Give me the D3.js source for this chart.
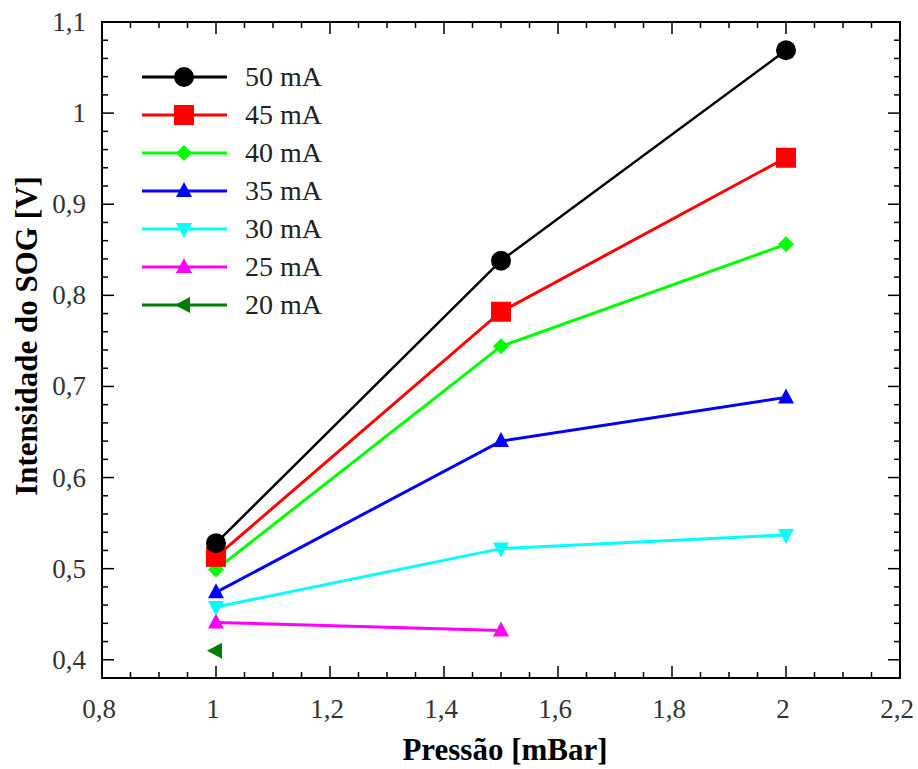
<!DOCTYPE html>
<html><head><meta charset="utf-8">
<script src="https://cdn.jsdelivr.net/npm/d3@7"></script>
<style>body{margin:0;background:#fff}svg{display:block}</style>
</head><body><svg id="c" width="918" height="769"></svg>
<script>
const seriesNames = ["50 mA","45 mA","40 mA","35 mA","30 mA","25 mA","20 mA"];
const seriesColors = ["#000000","#ff0000","#00ff00","#0000ff","#00ffff","#ff00ff","#007d00"];
const seriesMarkers = ["circle","square","diamond","triUp","triDown","triUp","triLeft"];
const pressure50 = [1,1.5,2], values50 = [0.528,0.838,1.069];
const pressure45 = [1,1.5,2], values45 = [0.513,0.782,0.951];
const pressure40 = [1,1.5,2], values40 = [0.499,0.744,0.856];
const pressure35 = [1,1.5,2], values35 = [0.474,0.640,0.688];
const pressure30 = [1,1.5,2], values30 = [0.458,0.522,0.537];
const pressure25 = [1,1.5], values25 = [0.441,0.432];
const pressure20 = [1], values20 = [0.410];
const xTicks = [0.8,1,1.2,1.4,1.6,1.8,2,2.2];
const yTicks = [0.4,0.5,0.6,0.7,0.8,0.9,1,1.1];
const xTitle = "Pressão [mBar]", yTitle = "Intensidade do SOG [V]";

const FONT = "'Liberation Serif','Times New Roman',Times,'DejaVu Serif',serif";
const series = [
  [pressure50,values50],[pressure45,values45],[pressure40,values40],[pressure35,values35],
  [pressure30,values30],[pressure25,values25],[pressure20,values20]
].map((d,i)=>({name:seriesNames[i],color:seriesColors[i],marker:seriesMarkers[i],
  pts:d[0].map((x,j)=>({x,y:d[1][j]}))}));

const L=102,R=900,T=22,B=678;
const x=d3.scaleLinear().domain([0.8,2.2]).range([L,R]);
const y=d3.scaleLinear().domain([0.38,1.1]).range([B,T]);
const svg=d3.select("#c").attr("font-family",FONT);
const fmt=v=>(Math.round(v*10)/10).toString().replace(".",",");

svg.append("rect").attr("x",L).attr("y",T).attr("width",R-L).attr("height",B-T)
  .attr("fill","none").attr("stroke","#000").attr("stroke-width",2);

const xMinor=d3.range(0.8,2.2001,0.05), yMinor=d3.range(0.38,1.1001,0.02);
const isMajor=(v,step)=>Math.abs(v/step-Math.round(v/step))<1e-6;
const tg=svg.append("g").attr("stroke","#000").attr("stroke-width",1.5);
xMinor.forEach(v=>{const len=isMajor(v,0.2)?12:6;const px=x(v);
  tg.append("line").attr("x1",px).attr("x2",px).attr("y1",B).attr("y2",B-len);
  tg.append("line").attr("x1",px).attr("x2",px).attr("y1",T).attr("y2",T+len);});
yMinor.forEach(v=>{const len=isMajor(v,0.1)?12:6;const py=y(v);
  tg.append("line").attr("y1",py).attr("y2",py).attr("x1",L).attr("x2",L+len);
  tg.append("line").attr("y1",py).attr("y2",py).attr("x1",R).attr("x2",R-len);});

svg.append("g").selectAll("text").data(xTicks).join("text")
  .attr("x",d=>x(d)-3).attr("y",718).attr("text-anchor","middle")
  .attr("font-size",27).attr("fill","#333").text(fmt);
svg.append("g").selectAll("text").data(yTicks).join("text")
  .attr("x",L-16).attr("y",d=>y(d)+9).attr("text-anchor","end")
  .attr("font-size",27).attr("fill","#333").text(fmt);

svg.append("text").attr("x",(L+R)/2+4).attr("y",760).attr("text-anchor","middle")
  .attr("font-size",31).attr("font-weight","bold").text(xTitle);
svg.append("text").attr("transform",`translate(37,336) rotate(-90)`)
  .attr("text-anchor","middle").attr("font-size",31).attr("font-weight","bold").text(yTitle);

function markerPath(type){
  switch(type){
    case "circle": return d3.symbol(d3.symbolCircle,Math.PI*10*10)();
    case "square": return "M-10,-10H10V10H-10Z";
    case "diamond": return "M0,-8L8,0L0,8L-8,0Z";
    case "triUp": return "M0,-9L8,6L-8,6Z";
    case "triDown": return "M0,9L8,-6L-8,-6Z";
    case "triLeft": return "M-9,0L6,-8L6,8Z";
  }
}

const line=d3.line().x(d=>x(d.x)).y(d=>y(d.y));
series.forEach(s=>{
  svg.append("path").attr("d",line(s.pts)).attr("fill","none")
    .attr("stroke",s.color).attr("stroke-width",s.color==="#000000"?2.5:3);
});
series.slice().reverse().forEach(s=>{
  svg.append("g").selectAll("path").data(s.pts).join("path")
    .attr("transform",d=>`translate(${x(d.x)},${y(d.y)})`)
    .attr("d",markerPath(s.marker)).attr("fill",s.color);
});

const lg=svg.append("g");
series.forEach((s,i)=>{
  const ly=77+i*38;
  lg.append("line").attr("x1",142).attr("x2",227).attr("y1",ly).attr("y2",ly)
    .attr("stroke",s.color).attr("stroke-width",3);
  lg.append("path").attr("transform",`translate(184,${ly})`).attr("d",markerPath(s.marker)).attr("fill",s.color);
  lg.append("text").attr("x",245).attr("y",ly+9).attr("font-size",28).attr("fill","#222").text(s.name);
});
</script></body></html>
